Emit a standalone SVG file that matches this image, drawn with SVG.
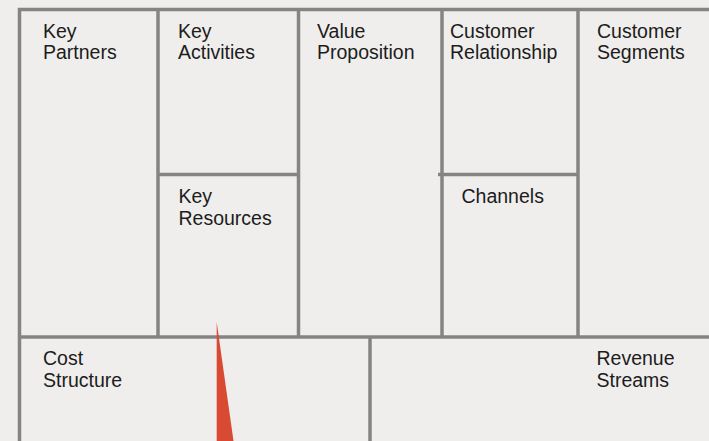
<svg xmlns="http://www.w3.org/2000/svg" width="709" height="441" viewBox="0 0 709 441">
<style>
.ln{stroke:#848484;stroke-width:3.5;fill:none;stroke-linecap:butt}
.t{font-family:"Liberation Sans",Arial,sans-serif;font-size:19.5px;fill:#1c1c1c}
</style>
<rect width="709" height="441" fill="#efeeec"/>
<g id="grid">
<line class="ln" x1="18" y1="9.5" x2="709" y2="9.5"/>
<line class="ln" x1="19.5" y1="8" x2="19.5" y2="441"/>
<line class="ln" x1="158" y1="9" x2="158" y2="337"/>
<line class="ln" x1="298.5" y1="9" x2="298.5" y2="337"/>
<line class="ln" x1="442" y1="9" x2="442" y2="337"/>
<line class="ln" x1="578" y1="9" x2="578" y2="337"/>
<line class="ln" x1="158" y1="174.5" x2="298" y2="174.5"/>
<line class="ln" x1="438" y1="174.5" x2="578" y2="174.5"/>
<line class="ln" x1="18" y1="337" x2="709" y2="337"/>
<line class="ln" x1="370" y1="337" x2="370" y2="441"/>
</g>
<g id="key-partners"><text class="t" x="43" y="37.5">Key</text><text class="t" x="43" y="59">Partners</text></g>
<g id="key-activities"><text class="t" x="178" y="37.5">Key</text><text class="t" x="178" y="59">Activities</text></g>
<g id="value-proposition"><text class="t" x="317" y="37.5">Value</text><text class="t" x="317" y="59">Proposition</text></g>
<g id="customer-relationship"><text class="t" x="450" y="37.5">Customer</text><text class="t" x="450" y="59">Relationship</text></g>
<g id="customer-segments"><text class="t" x="597" y="37.5">Customer</text><text class="t" x="597" y="59">Segments</text></g>
<g id="key-resources"><text class="t" x="178.5" y="203">Key</text><text class="t" x="178.5" y="224.5">Resources</text></g>
<g id="channels"><text class="t" x="461.5" y="203">Channels</text></g>
<g id="cost-structure"><text class="t" x="43" y="364.5">Cost</text><text class="t" x="43" y="386.5">Structure</text></g>
<g id="revenue-streams"><text class="t" x="596.5" y="364.5">Revenue</text><text class="t" x="596.5" y="386.5">Streams</text></g>
<polygon id="pointer" points="216.7,322 233.5,441 216.7,441" fill="#d94a33"/>
</svg>
